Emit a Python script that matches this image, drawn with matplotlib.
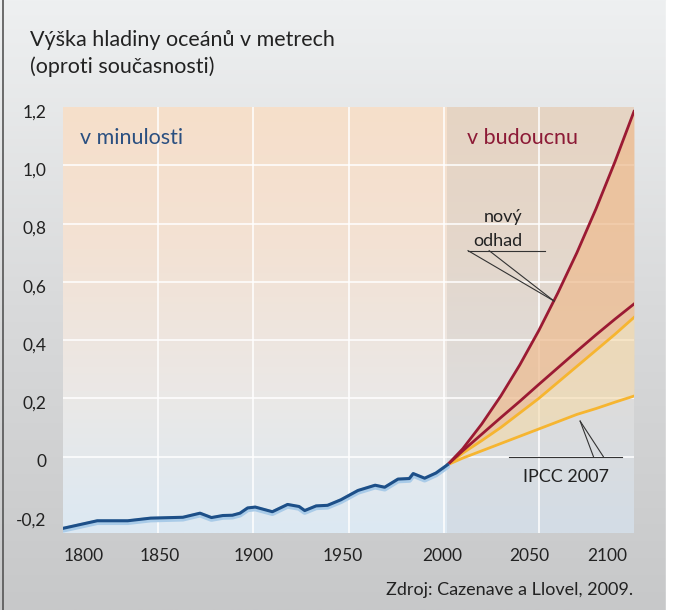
import numpy as np
import matplotlib
matplotlib.use("Agg")
import matplotlib.pyplot as plt
import matplotlib.transforms as mtransforms
from matplotlib.colors import LinearSegmentedColormap

plt.rcParams['font.family'] = ['Lato', 'DejaVu Sans']

# measured sea level (m, relative to today)
past_years = [1800, 1818, 1834, 1846, 1863, 1872, 1878, 1884, 1889, 1893, 1897,
              1901, 1910, 1918, 1924, 1927, 1933, 1939, 1946, 1955, 1964, 1969,
              1976, 1982, 1984, 1990, 1996, 2002]
past_level = [-0.246, -0.220, -0.220, -0.211, -0.208, -0.194, -0.209, -0.202,
              -0.201, -0.194, -0.176, -0.173, -0.189, -0.164, -0.171, -0.185,
              -0.169, -0.167, -0.148, -0.116, -0.098, -0.105, -0.077, -0.075,
              -0.058, -0.074, -0.056, -0.028]

# projections
proj_years = [2002, 2010, 2020, 2030, 2040, 2050, 2060, 2070, 2080, 2090, 2100]
new_high = [-0.028, 0.027, 0.112, 0.208, 0.315, 0.433, 0.562, 0.70, 0.85, 1.012, 1.185]
new_low = [-0.028, 0.02, 0.077, 0.134, 0.19, 0.248, 0.305, 0.362, 0.418, 0.472, 0.524]
ipcc_high = [-0.028, 0.012, 0.055, 0.10, 0.15, 0.20, 0.255, 0.31, 0.365, 0.42, 0.478]
ipcc_low = [-0.028, -0.005, 0.02, 0.045, 0.07, 0.095, 0.12, 0.145, 0.165, 0.187, 0.208]

y_ticks = [-0.2, 0, 0.2, 0.4, 0.6, 0.8, 1.0, 1.2]
y_labels = ['-0,2', '0', '0,2', '0,4', '0,6', '0,8', '1,0', '1,2']
x_labels = ['1800', '1850', '1900', '1950', '2000', '2050', '2100']
x_label_pos = [1811, 1851, 1900, 1947, 1999, 2045, 2086]
grid_years = [1850, 1900, 1950, 2000, 2050]

fig = plt.figure(figsize=(6.82, 6.10), dpi=100)

# grey panel behind everything
bg = fig.add_axes([0, 0, 1, 1], zorder=-10)
panel = LinearSegmentedColormap.from_list('panel', ['#c7c8c9', '#d9dadb', '#eef0f1'])
bg.imshow(np.linspace(0, 1, 256).reshape(-1, 1)[::-1], cmap=panel, aspect='auto',
          extent=[0, 1, 0, 1])
bg.axvspan(666 / 682, 1, color='white')
bg.axvline(2.5 / 682, color='#555555', lw=1.2)
bg.set_xlim(0, 1)
bg.set_ylim(0, 1)
bg.axis('off')

ax = fig.add_axes([63 / 682, 1 - 533 / 610, 571 / 682, 426 / 610])
ymin, ymax = -0.262, 1.2
past_cmap = LinearSegmentedColormap.from_list('past', ['#dce9f3', '#ebe8e6', '#f3e2d4', '#f6dfca'])
fut_cmap = LinearSegmentedColormap.from_list('fut', ['#d3dde6', '#dedcdb', '#e4d7cb', '#e6d4c3'])
grad = np.linspace(0, 1, 256).reshape(-1, 1)[::-1]
ax.imshow(grad, cmap=past_cmap, aspect='auto', extent=[1800, 2002, ymin, ymax], zorder=0)
ax.imshow(grad, cmap=fut_cmap, aspect='auto', extent=[2002, 2100, ymin, ymax], zorder=0)

for v in [0, 0.2, 0.4, 0.6, 0.8, 1.0]:
    ax.axhline(v, color='white', lw=1.1, zorder=1)
for yr in grid_years:
    ax.axvline(yr, color='white', lw=1.1, zorder=1)

# projection bands
ax.fill_between(proj_years, ipcc_high, new_high, color='#eebd92', alpha=0.75, lw=0, zorder=2)
ax.fill_between(proj_years, ipcc_low, ipcc_high, color='#f4d9a8', alpha=0.6, lw=0, zorder=2)
ax.plot(proj_years, ipcc_high, color='#f6b530', lw=2, zorder=3)
ax.plot(proj_years, ipcc_low, color='#f6b530', lw=2, zorder=3)
ax.plot(proj_years, new_high, color='#9b1a33', lw=2, zorder=4)
ax.plot(proj_years, new_low, color='#9b1a33', lw=2, zorder=4)

# measured series with light halo
halo = mtransforms.offset_copy(ax.transData, fig=fig, x=0, y=-1.5, units='dots')
ax.plot(past_years, past_level, color='#a9cbe8', lw=4, zorder=4,
        transform=halo, solid_capstyle='round')
ax.plot(past_years, past_level, color='#1d4f88', lw=2.2, zorder=5)

# leader lines
lk = dict(color='#333333', lw=0.8, zorder=6)
ax.plot([2012.8, 2053.3], [0.707, 0.707], **lk)
ax.plot([2012.8, 2058], [0.707, 0.534], **lk)
ax.plot([2023.9, 2058], [0.707, 0.534], **lk)
ax.plot([2034.4, 2093.8], [0.0, 0.0], **lk)
ax.plot([2078.7, 2071.7], [0.0, 0.122], **lk)
ax.plot([2083.9, 2071.7], [0.0, 0.122], **lk)

tk = dict(ha='center', va='center', fontsize=13, color='#222222', zorder=7)
ax.text(2031, 0.824, 'nový', **tk)
ax.text(2028.6, 0.741, 'odhad', **tk)
ax.text(2064.3, -0.069, 'IPCC 2007', **tk)
ax.text(1809, 1.093, 'v minulosti', ha='left', va='center', fontsize=15.5, color='#2a4f80', zorder=7)
ax.text(2012.3, 1.093, 'v budoucnu', ha='left', va='center', fontsize=15.5, color='#8c1a36', zorder=7)

ax.set_xlim(1800, 2100)
ax.set_ylim(ymin, ymax)
ax.set_yticks(y_ticks, labels=y_labels)
ax.set_xticks(x_label_pos, labels=x_labels)
ax.tick_params(length=0, labelsize=12.5, labelcolor='#222222')
ax.tick_params(axis='y', pad=12)
ax.tick_params(axis='x', pad=11)
for s in ax.spines.values():
    s.set_visible(False)
shift = mtransforms.ScaledTranslation(0, -4 / 100, fig.dpi_scale_trans)
for lab in ax.get_yticklabels():
    lab.set_transform(lab.get_transform() + shift)

fig.text(30 / 682, 1 - 40 / 610, 'Výška hladiny oceánů v metrech', fontsize=15.5,
         color='#222222', va='center', ha='left')
fig.text(30 / 682, 1 - 67 / 610, '(oproti současnosti)', fontsize=15.5,
         color='#222222', va='center', ha='left')
fig.text(633 / 682, 1 - 590 / 610, 'Zdroj: Cazenave a Llovel, 2009.', fontsize=13,
         color='#222222', va='center', ha='right')

fig.savefig('out.png', dpi=100)
